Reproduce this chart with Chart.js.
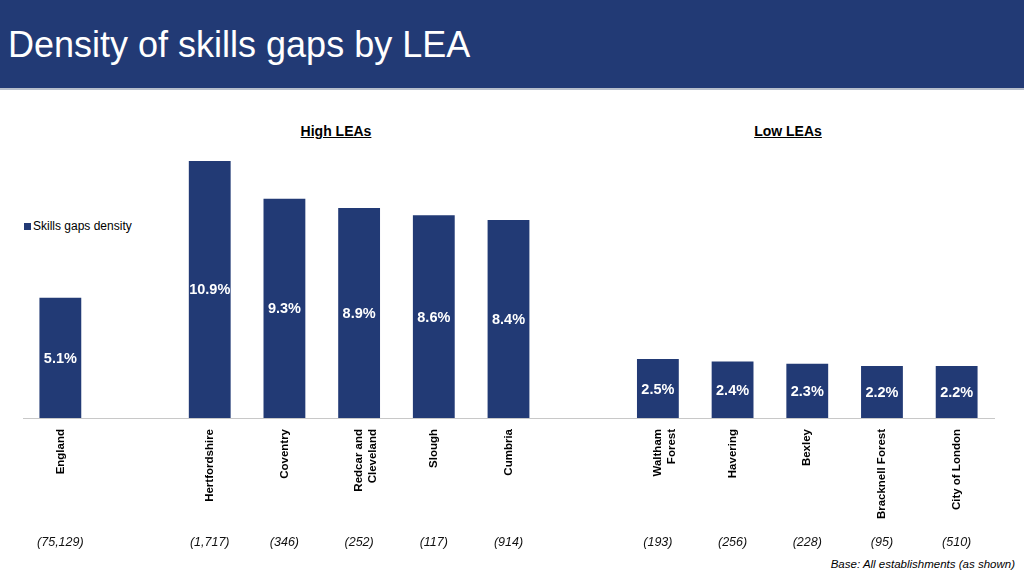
<!DOCTYPE html>
<html>
<head>
<meta charset="utf-8">
<script src="https://cdn.jsdelivr.net/npm/chart.js@4/dist/chart.umd.min.js"></script>
<style>
  body { margin: 0; width: 1024px; height: 576px; position: relative; overflow: hidden; background: #fff; font-family: "Liberation Sans", Arial, sans-serif; }
  .header { position: absolute; left: 0; top: 0; width: 1024px; height: 88px; background: #223A75; border-bottom: 2px solid #B7BECB; }
  .header h1 { margin: 0; position: absolute; left: 8px; top: 23px; font-size: 36px; font-weight: normal; color: #fff; line-height: 44px; }
  .group { position: absolute; top: 123px; font-size: 14px; font-weight: bold; text-decoration: underline; color: #000; transform: translateX(-50%); }
  .legend { position: absolute; left: 24px; top: 219px; font-size: 12px; color: #000; }
  .legend span { display: inline-block; width: 7px; height: 7px; background: #223A75; margin-right: 2px; }
  .base { position: absolute; right: 9px; top: 558px; font-size: 11.5px; font-style: italic; color: #000; }
  #wrap { position: absolute; left: 0; top: 0; width: 1024px; height: 576px; }
</style>
</head>
<body>
<div class="header"><h1>Density of skills gaps by LEA</h1></div>
<div class="group" style="left:336px">High LEAs</div>
<div class="group" style="left:788px">Low LEAs</div>
<div class="legend"><span></span>Skills gaps density</div>
<div class="base">Base: All establishments (as shown)</div>
<div id="wrap"><canvas id="chart"></canvas></div>
<script>
const categories = ['England', '', 'Hertfordshire', 'Coventry', ['Redcar and', 'Cleveland'], 'Slough', 'Cumbria', '',
    ['Waltham', 'Forest'], 'Havering', 'Bexley', 'Bracknell Forest', 'City of London'];
const density = [5.1, null, 10.9, 9.3, 8.9, 8.6, 8.4, null, 2.5, 2.4, 2.3, 2.2, 2.2];
const bases = ['(75,129)', '', '(1,717)', '(346)', '(252)', '(117)', '(914)', '', '(193)', '(256)', '(228)', '(95)', '(510)'];

const barColor = '#223A75';

// value labels in the middle of each bar, base sizes under the axis
const extraText = {
    id: 'extraText',
    afterDatasetsDraw(chart) {
        const ctx = chart.ctx;
        const meta = chart.getDatasetMeta(0);
        ctx.save();
        ctx.textAlign = 'center';
        ctx.textBaseline = 'middle';
        ctx.fillStyle = '#fff';
        ctx.font = 'bold 14.5px "Liberation Sans", Arial, sans-serif';
        meta.data.forEach((bar, i) => {
            if (density[i] == null) return;
            ctx.fillText(density[i].toFixed(1) + '%', bar.x, (bar.y + bar.base) / 2 + 1);
        });
        ctx.fillStyle = '#111';
        ctx.font = 'italic 12.5px "Liberation Sans", Arial, sans-serif';
        const xs = chart.scales.x;
        bases.forEach((b, i) => {
            if (!b) return;
            ctx.fillText(b, xs.getPixelForValue(i), 543);
        });
        ctx.restore();
    }
};

new Chart(document.getElementById('chart'), {
    type: 'bar',
    data: {
        labels: categories,
        datasets: [{
            label: 'Skills gaps density',
            data: density,
            backgroundColor: barColor,
            barPercentage: 0.56,
            categoryPercentage: 1
        }]
    },
    options: {
        responsive: true,
        maintainAspectRatio: false,
        animation: false,
        layout: { padding: { left: 23, right: 30, top: 135, bottom: 38 } },
        plugins: {
            legend: { display: false },
            tooltip: { enabled: false }
        },
        scales: {
            x: {
                grid: { display: false },
                border: { display: true, color: '#C8C8C8', width: 1 },
                ticks: {
                    color: '#000',
                    font: { family: '"Liberation Sans", Arial, sans-serif', size: 11.5, weight: 'bold' },
                    minRotation: 90,
                    maxRotation: 90,
                    autoSkip: false,
                    padding: 3
                },
                afterFit: (s) => { s.height = 120; }
            },
            y: {
                display: false,
                min: 0,
                max: 12
            }
        }
    },
    plugins: [extraText]
});
</script>
</body>
</html>
